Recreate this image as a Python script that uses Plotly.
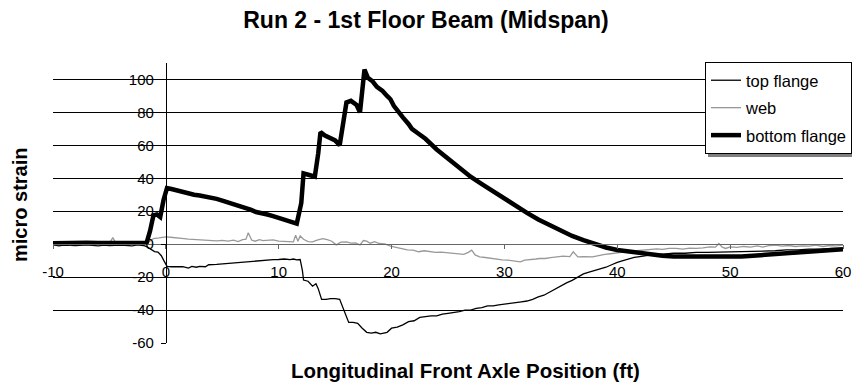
import plotly.graph_objects as go

# ---- data: strain vs. front axle position ----
bottom_x = [-10, -9, -8, -7, -6, -5, -4, -3, -2, -1.7, -1.4, -1.1, -0.8, -0.5, -0.2, 0.1, 0.5, 1, 1.5,
            2, 2.5, 3, 3.5, 4, 4.5, 5, 5.5, 6, 6.5, 7, 7.5, 8, 8.5, 9, 9.5, 10, 10.5, 11, 11.6,
            12.0, 12.2, 12.7, 13.2, 13.5, 13.7, 14.1, 14.5, 15, 15.4, 15.7, 16, 16.4, 16.9, 17.2,
            17.4, 17.6, 17.9, 18.3, 18.7, 19.2, 19.6, 19.9, 20.2, 20.5, 21, 21.5, 21.8, 22.3, 23,
            24, 25, 26, 27, 28, 29, 30, 31, 32, 33, 34, 35, 36, 37, 38, 39, 40, 41, 42, 43, 44,
            45, 46, 47, 48, 49, 50, 51, 52, 53, 54, 55, 56, 57, 58, 59, 60]
bottom_y = [0.5, 0.8, 0.6, 0.9, 0.7, 0.8, 0.6, 0.9, 0.8, 0.9, 8, 17.5, 18, 16.5, 27, 34, 33.5, 32.5, 32,
            31, 30, 29.5, 29, 28, 27.5, 26.5, 25.5, 24, 23.5, 22, 21, 19.5, 19, 18, 17, 16, 15, 14, 12.5,
            25, 43, 42, 41, 55, 68, 66, 64.5, 63, 60, 75, 86, 87, 84.5, 80,
            95, 106, 101, 99, 95.5, 93, 90, 88, 84, 81, 77, 73, 70, 67.5, 64,
            57.5, 52, 46.5, 41, 36.5, 32, 27.5, 23, 19, 15, 11.5, 8, 5, 2.5, 0, -2, -3.5, -4.5, -5.5, -6.5, -7,
            -7.5, -7.5, -8, -8, -8, -8, -7.5, -7, -6.5, -5.5, -5, -4.5, -4, -3.5, -3.2, -3]

top_x = [-10, -9.5, -9, -8, -7, -6, -5.5, -5, -4, -3, -2.5, -2, -1.7, -1.3, -1, -0.7, -0.4, -0.2, 0, 0.1,
         0.5, 1, 1.5, 2, 2.3, 2.7, 3, 3.5, 3.8, 4.5, 5, 5.5, 6, 6.5, 7, 7.5, 8, 8.5, 9, 9.5, 10, 10.5,
         11, 11.3, 11.6, 11.9, 12.1, 12.2, 12.6, 13, 13.3, 13.5, 13.8, 14.2, 14.6, 15, 15.4, 15.8, 16.2,
         16.6, 17, 17.4, 17.8, 18.2, 18.6, 19, 19.3, 19.6, 20, 20.5, 21, 21.5, 22, 22.5, 23, 23.5, 24,
         24.5, 25, 25.5, 26, 26.5, 27, 27.5, 28, 28.5, 29, 29.5, 30, 30.5, 31, 31.5, 32, 32.5, 33, 33.5,
         34, 34.5, 35, 35.5, 36, 36.5, 37, 37.5, 38, 38.5, 39, 39.5, 40, 40.5, 41, 41.5, 42, 42.5, 43,
         44, 45, 46, 47, 48, 49, 50, 51, 52, 53, 54, 55, 56, 57, 58, 59, 60]
top_y = [-0.3, -1, -0.5, -0.8, -0.4, -1, -0.5, -0.8, -0.5, -1, -0.4, -0.8, -1.5, -3, -4.5, -4.8, -7, -9.7, -12.5, -13.5,
         -13.7, -13.5, -13.7, -14.5, -13.5, -14, -13.5, -13.7, -12.5, -12.3, -12, -11.5, -11.3, -11, -10.7, -10.5, -10.1, -10, -9.5, -9.4, -9.3, -9,
         -9.4, -9, -9.5, -9.3, -16, -21.8, -22.5, -25.5, -24, -27, -33.5, -33.5, -33, -33, -33.5, -40, -47.5,
         -47.5, -48, -51, -53.5, -54, -53.5, -54.5, -54, -53.5, -51, -50.3, -49, -47, -46.5, -44.5, -44, -43.5, -43.5,
         -42.5, -42, -41.5, -41, -40, -40, -39, -38.5, -37.5, -37.5, -36.8, -36.5, -36, -35.5, -35, -34.5, -33.5, -32, -31,
         -29, -27, -25.5, -23.5, -22, -20, -18, -17, -16, -15, -14, -12.5, -11, -10, -9, -8, -7.5, -7, -6.5,
         -6, -5.5, -5.5, -5, -5, -4.8, -5, -4.5, -4.5, -4, -4, -3.5, -3.5, -3, -3, -2.5, -2.5]

web_x = [-10, -9.5, -9, -8.5, -8, -7.5, -7, -6.5, -6, -5.5, -5, -4.7, -4.4, -4, -3.5, -3, -2.5, -2, -1.7, -1.4,
         -1.1, -0.6, 0, 0.4, 0.8, 1.2, 1.6, 2, 2.7, 3.2, 3.7, 4.5, 5, 5.5, 6, 6.4, 6.8, 7.1, 7.3, 7.6, 7.9,
         8.3, 8.6, 9, 9.5, 10, 10.5, 11, 11.3, 11.5, 11.7, 11.9, 12.2, 12.6, 13, 13.4, 13.9, 14.3, 14.7,
         15.1, 15.5, 16, 16.4, 16.8, 17.2, 17.5, 17.8, 18.1, 18.5, 18.9, 19.4, 19.9, 20.4, 20.9, 21.4,
         21.9, 22.4, 22.9, 23.4, 23.9, 24.4, 24.9, 25.4, 25.9, 26.4, 26.8, 27.1, 27.4, 27.8, 28.3, 28.8,
         29.3, 29.8, 30.3, 30.8, 31.4, 31.8, 32.3, 32.8, 33.1, 33.6, 34.1, 34.6, 35.2, 35.8, 36.1, 36.5,
         37, 37.8, 38.4, 38.9, 39.4, 39.9, 40.5, 41.1, 41.7, 42.3, 43, 43.5, 44, 44.6, 45.2, 45.8, 46.4,
         47, 47.6, 48.2, 48.7, 49, 49.3, 49.6, 50, 50.6, 51.2, 51.8, 52.4, 52.9, 53.5, 54, 54.6, 55.2,
         55.8, 56.4, 57, 57.6, 58.2, 58.8, 59.4, 60]
web_y = [0, -0.3, 0.2, -0.2, 0.1, 0.3, 0, 0.2, -0.2, 0.3, 0.5, 4, 0.3, 0, 0.2, -0.2, 0.2, 0, 0.3, 2,
         3.4, 3.8, 4.4, 4.2, 3.8, 3.4, 3.4, 3.1, 2.8, 2.6, 2.2, 2, 2.3, 1.8, 2.4, 1.6, 2.8, 3, 7, 2.5, 1.8,
         2.8, 2.2, 2.4, 2.6, 1.8, 1.5, 1.2, 1.4, 5.5, 1.8, 5, 3, 1.6, 1.4, 2.4, 3.4, 2.8, 1.8,
         -0.4, 1.2, 1.4, 0.6, 0.8, -0.4, 2.2, 1.8, 0.6, 1.5, 0.4, 0.2, -1.2, -2, -2.8, -3.4,
         -3.6, -4.6, -4, -4.6, -5, -4.8, -5.2, -5.4, -5.8, -6.2, -5, -3.6, -6.5, -7.7, -8.1, -8.7,
         -8.9, -9.5, -9.7, -10.1, -10.7, -9.7, -9.5, -9, -8.7, -8.7, -8.1, -7.7, -7.3, -7.5, -4.6, -7.7,
         -7.5, -7.7, -6.8, -6.2, -5.8, -5.2, -4.6, -4.2, -4, -3.6, -3.2, -2.8, -3.2, -2.6, -2.6, -3, -2.4,
         -2.6, -2.2, -1.6, -1.8, 0.4, -1.8, -2.6, -1.6, -2, -1.4, -1.8, -1, -1.8, -0.8, -0.6, -1.2, -0.8,
         -1.4, -1, -1.2, -0.6, -1.4, -0.8, -1, -0.6]

x_ticks = [-10, 0, 10, 20, 30, 40, 50, 60]
y_ticks = [-60, -40, -20, 0, 20, 40, 60, 80, 100]
x_range = [-10, 60]
y_range = [-60, 110]

# ---- layout geometry (pixels) ----
W, H = 852, 385
ML, MR, MT, MB = 53, 9, 63, 42
PW, PH = W - ML - MR, H - MT - MB


def px_x(px):
    return (px - ML) / PW


def px_y(py):
    return (H - MB - py) / PH


FONT = "Liberation Sans, Arial, sans-serif"

fig = go.Figure()
fig.add_trace(go.Scatter(x=top_x, y=top_y, mode="lines", name="top flange",
                         legendgroup="top", line=dict(color="black", width=1.3)))
fig.add_trace(go.Scatter(x=web_x, y=web_y, mode="lines", name="web",
                         legendgroup="web", line=dict(color="#999999", width=1.3)))
fig.add_trace(go.Scatter(x=bottom_x, y=bottom_y, mode="lines", name="bottom flange",
                         legendgroup="bottom", line=dict(color="black", width=4.5)))

# horizontal axis crosses at y = 0, vertical axis crosses at x = 0
x_cross = (0 - y_range[0]) / (y_range[1] - y_range[0])
y_cross = (0 - x_range[0]) / (x_range[1] - x_range[0])

# legend box placement and its drop shadow
LEG_L, LEG_T, LEG_B = 705, 62, 154
fig.add_shape(type="rect", xref="paper", yref="paper",
              x0=px_x(LEG_L + 3), x1=px_x(W + 5), y0=px_y(LEG_B + 3), y1=px_y(LEG_T + 3),
              fillcolor="#7f7f7f", line=dict(width=0), layer="above")

fig.update_layout(
    width=W, height=H,
    margin=dict(l=ML, r=MR, t=MT, b=MB, autoexpand=False),
    paper_bgcolor="white", plot_bgcolor="white",
    font=dict(family=FONT, color="black"),
    showlegend=True,
    title=dict(text="<b>Run 2 - 1st Floor Beam (Midspan)</b>",
               x=0.5, xanchor="center", xref="container",
               y=1 - 20 / H, yanchor="middle", yref="container",
               font=dict(size=23, family=FONT, color="black")),
    xaxis=dict(range=x_range, domain=[0, 1], anchor="free", position=x_cross,
               tickmode="array", tickvals=x_ticks, ticktext=[str(v) for v in x_ticks],
               showgrid=False, zeroline=False,
               showline=True, linecolor="#666666", linewidth=1,
               ticks="outside", ticklen=4, tickcolor="#666666",
               ticklabelstandoff=10,
               tickfont=dict(size=15, family=FONT, color="black")),
    yaxis=dict(range=y_range, domain=[0, 1], anchor="free", position=y_cross,
               tickmode="array", tickvals=y_ticks, ticktext=[str(v) for v in y_ticks],
               showgrid=True, gridcolor="black", gridwidth=1, zeroline=False,
               showline=True, linecolor="black", linewidth=1,
               ticks="outside", ticklen=5, tickcolor="black",
               ticklabelstandoff=4,
               tickfont=dict(size=15, family=FONT, color="black")),
    legend=dict(x=px_x(LEG_L), y=px_y(LEG_T), xanchor="left", yanchor="top",
                bgcolor="white", bordercolor="black", borderwidth=1,
                font=dict(size=16.5, family=FONT, color="black"),
                traceorder="grouped", tracegroupgap=3),
)

fig.add_annotation(text="<b>Longitudinal Front Axle Position (ft)</b>",
                   xref="paper", yref="paper", x=px_x(465), y=px_y(370),
                   xanchor="center", yanchor="middle", showarrow=False,
                   font=dict(size=20.5, family=FONT, color="black"))
fig.add_annotation(text="<b>micro strain</b>", textangle=-90,
                   xref="paper", yref="paper", x=px_x(20), y=px_y(205),
                   xanchor="center", yanchor="middle", showarrow=False,
                   font=dict(size=20, family=FONT, color="black"))

fig.write_html("out.html")
